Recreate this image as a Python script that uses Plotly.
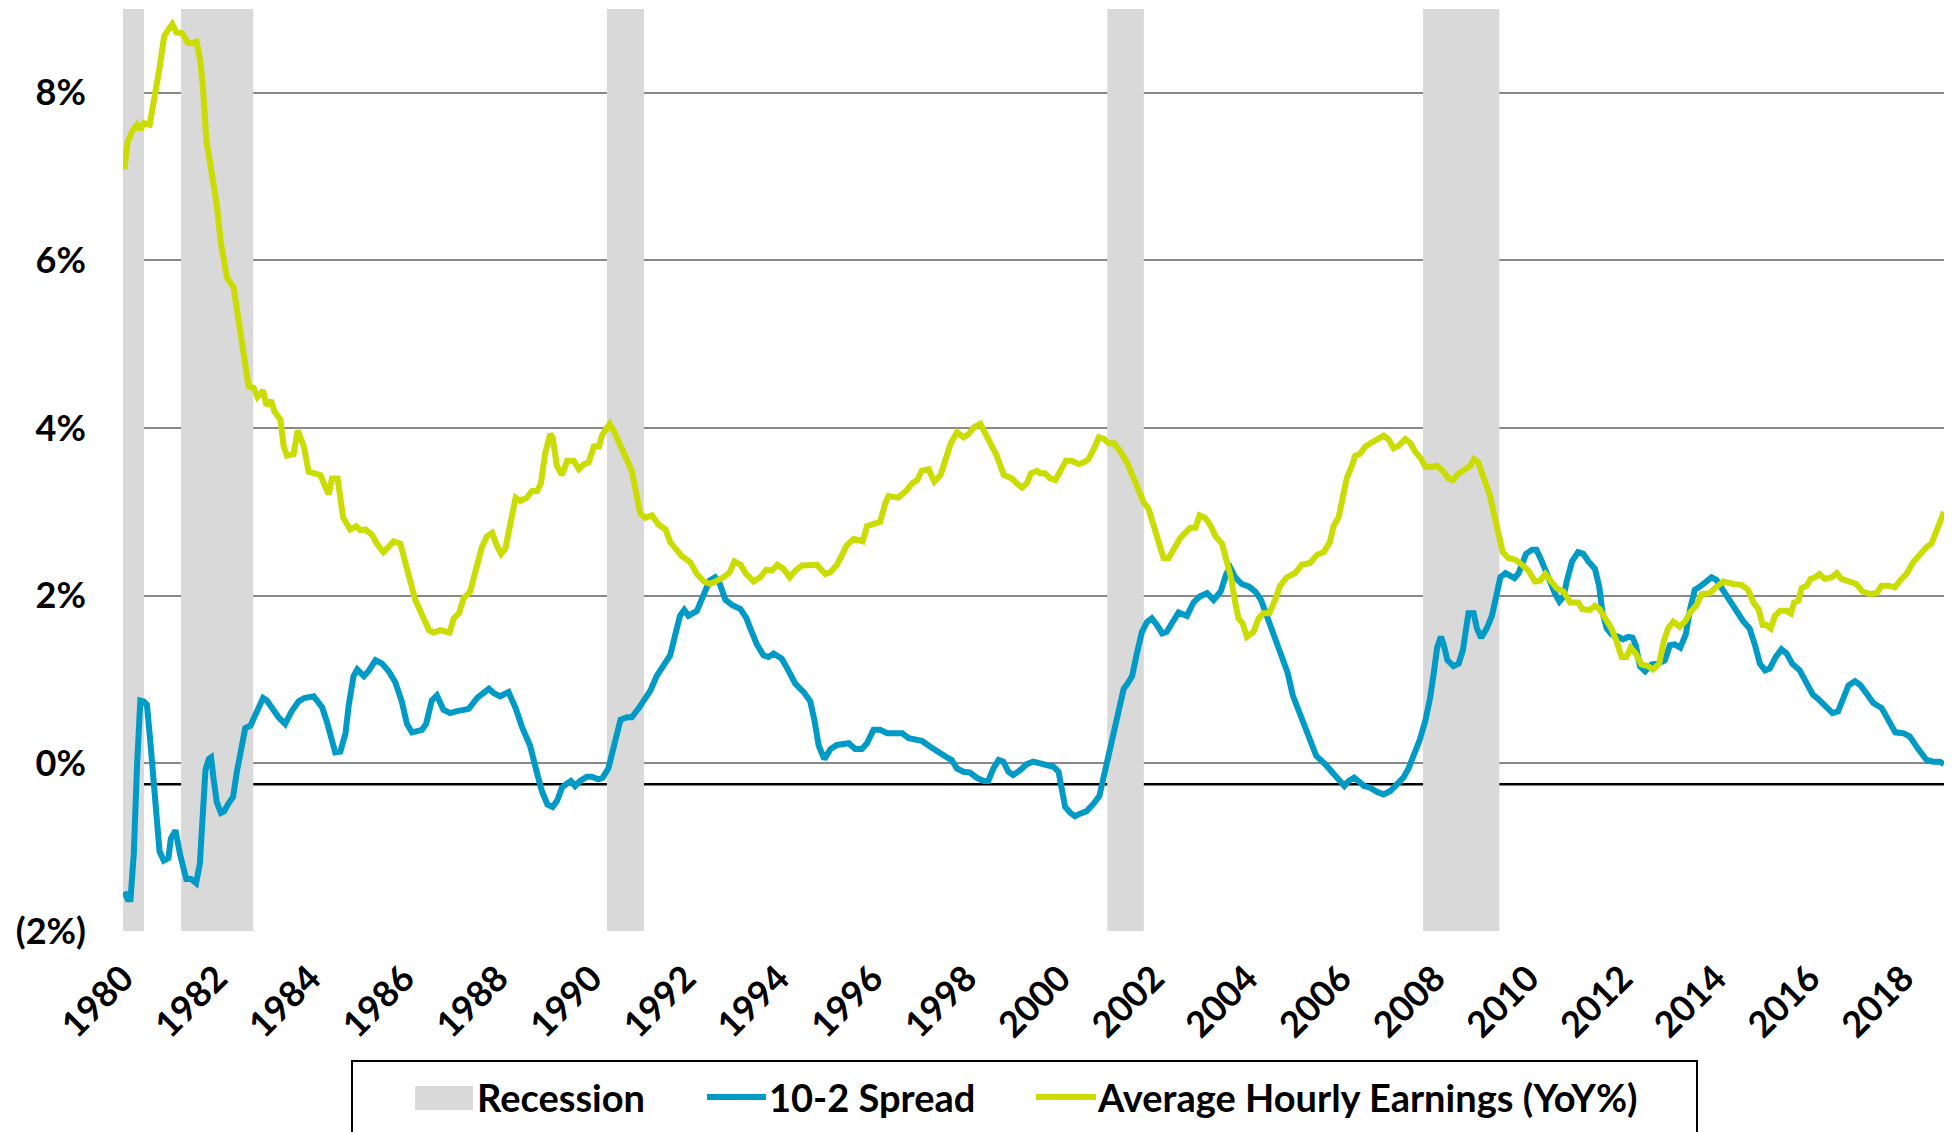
import plotly.graph_objects as go

# ---------------- data ----------------
# x values are years since January 1980
spread_t = [0.03, 0.10, 0.16, 0.23, 0.30, 0.37, 0.44, 0.51, 0.58, 0.69, 0.78, 0.87, 0.97, 1.02, 1.12, 1.22,
            1.35, 1.45, 1.56, 1.64, 1.69, 1.76, 1.83, 1.88, 1.93, 2.00, 2.09, 2.16, 2.25, 2.35, 2.43, 2.54,
            2.61, 2.72, 2.85, 2.99, 3.07, 3.18, 3.32, 3.46, 3.60, 3.75, 3.87, 4.07, 4.25, 4.35, 4.46, 4.53,
            4.64, 4.75, 4.82, 4.92, 5.00, 5.14, 5.24, 5.39, 5.53, 5.67, 5.81, 5.95, 6.06, 6.17, 6.38, 6.47,
            6.59, 6.70, 6.84, 6.98, 7.11, 7.38, 7.56, 7.70, 7.81, 7.91, 8.05, 8.23, 8.38, 8.52, 8.69, 8.83,
            8.94, 9.06, 9.17, 9.27, 9.37, 9.48, 9.56, 9.65, 9.76, 9.90, 10.00, 10.15, 10.24, 10.36, 10.47,
            10.54, 10.62, 10.76, 10.86, 11.01, 11.15, 11.26, 11.39, 11.54, 11.68, 11.79, 11.89, 11.98,
            12.07, 12.25, 12.39, 12.52, 12.64, 12.74, 12.86, 13.00, 13.18, 13.30, 13.39, 13.53, 13.67,
            13.78, 13.89, 14.06, 14.21, 14.35, 14.53, 14.67, 14.76, 14.85, 14.97, 15.10, 15.24, 15.49,
            15.63, 15.77, 15.88, 16.02, 16.16, 16.31, 16.48, 16.63, 16.77, 16.91, 17.05, 17.20, 17.37,
            17.59, 17.69, 17.80, 17.94, 18.08, 18.22, 18.37, 18.47, 18.58, 18.69, 18.79, 18.90, 19.00,
            19.15, 19.29, 19.43, 19.58, 19.72, 19.86, 19.97, 20.04, 20.11, 20.22, 20.32, 20.43, 20.57,
            20.72, 20.84, 20.93, 21.04, 21.14, 21.25, 21.36, 21.44, 21.54, 21.64, 21.75, 21.86, 21.96,
            22.07, 22.18, 22.28, 22.43, 22.53, 22.71, 22.85, 22.98, 23.14, 23.28, 23.43, 23.55, 23.64,
            23.74, 23.88, 24.03, 24.17, 24.29, 24.42, 24.56, 24.70, 24.86, 24.97, 25.07, 25.23, 25.34,
            25.47, 25.66, 25.80, 25.94, 26.07, 26.16, 26.28, 26.37, 26.49, 26.62, 26.76, 26.91, 27.05,
            27.19, 27.33, 27.44, 27.55, 27.68, 27.80, 27.90, 27.99, 28.05, 28.13, 28.19, 28.27, 28.40,
            28.51, 28.60, 28.67, 28.72, 28.83, 28.90, 28.99, 29.11, 29.22, 29.31, 29.40, 29.51, 29.61,
            29.70, 29.79, 29.86, 29.95, 30.08, 30.17, 30.27, 30.36, 30.48, 30.57, 30.66, 30.75, 30.82,
            30.93, 31.06, 31.17, 31.28, 31.42, 31.51, 31.58, 31.67, 31.77, 31.92, 32.02, 32.13, 32.22,
            32.29, 32.38, 32.49, 32.63, 32.77, 32.91, 33.02, 33.12, 33.24, 33.36, 33.45, 33.55, 33.66,
            33.76, 33.91, 34.01, 34.16, 34.30, 34.44, 34.58, 34.72, 34.83, 34.94, 35.05, 35.15, 35.28,
            35.40, 35.51, 35.63, 35.79, 35.94, 36.07, 36.22, 36.36, 36.49, 36.61, 36.72, 36.83, 36.97,
            37.09, 37.22, 37.36, 37.54, 37.68, 37.83, 38.00, 38.14, 38.32, 38.50, 38.64, 38.78, 38.87]
spread_v = [-1.53, -1.62, -1.62, -1.08, -0.02, 0.75, 0.74, 0.70, 0.28, -0.48, -1.05, -1.16, -1.13, -0.90,
            -0.80, -1.09, -1.38, -1.38, -1.43, -1.20, -0.78, -0.08, 0.05, 0.07, -0.17, -0.46, -0.59, -0.57,
            -0.48, -0.40, -0.10, 0.25, 0.42, 0.45, 0.62, 0.78, 0.75, 0.66, 0.55, 0.47, 0.62, 0.74, 0.78,
            0.80, 0.67, 0.50, 0.24, 0.13, 0.14, 0.36, 0.70, 1.04, 1.12, 1.04, 1.10, 1.23, 1.19, 1.10, 0.97,
            0.74, 0.47, 0.37, 0.40, 0.47, 0.75, 0.81, 0.64, 0.60, 0.62, 0.65, 0.78, 0.85, 0.89, 0.84, 0.80,
            0.85, 0.66, 0.43, 0.21, -0.10, -0.33, -0.49, -0.52, -0.44, -0.29, -0.24, -0.21, -0.27, -0.21,
            -0.16, -0.16, -0.19, -0.17, -0.06, 0.21, 0.40, 0.52, 0.55, 0.55, 0.66, 0.78, 0.87, 1.04, 1.16,
            1.29, 1.54, 1.76, 1.83, 1.76, 1.82, 2.03, 2.18, 2.22, 2.14, 1.95, 1.89, 1.84, 1.74, 1.61, 1.42,
            1.29, 1.27, 1.31, 1.25, 1.10, 0.95, 0.85, 0.74, 0.51, 0.21, 0.05, 0.17, 0.22, 0.24, 0.17, 0.17,
            0.24, 0.40, 0.40, 0.36, 0.36, 0.36, 0.30, 0.28, 0.27, 0.21, 0.14, 0.07, 0.04, -0.06, -0.10,
            -0.11, -0.17, -0.21, -0.21, -0.06, 0.04, 0.02, -0.10, -0.14, -0.08, -0.01, 0.02, 0.00, -0.01,
            -0.04, -0.10, -0.29, -0.52, -0.59, -0.63, -0.60, -0.57, -0.48, -0.39, -0.17, 0.10, 0.36, 0.62,
            0.89, 0.95, 1.04, 1.31, 1.57, 1.69, 1.73, 1.65, 1.55, 1.57, 1.73, 1.80, 1.76, 1.92, 1.99, 2.03,
            1.95, 2.05, 2.26, 2.33, 2.22, 2.14, 2.11, 2.05, 1.95, 1.76, 1.54, 1.35, 1.08, 0.81, 0.66, 0.43,
            0.24, 0.09, -0.01, -0.10, -0.19, -0.27, -0.21, -0.17, -0.21, -0.27, -0.29, -0.34, -0.37, -0.33,
            -0.25, -0.17, -0.06, 0.09, 0.28, 0.51, 0.78, 1.12, 1.38, 1.51, 1.42, 1.23, 1.16, 1.19, 1.35,
            1.61, 1.79, 1.79, 1.61, 1.50, 1.61, 1.76, 1.99, 2.22, 2.27, 2.24, 2.21, 2.27, 2.37, 2.50, 2.55,
            2.55, 2.43, 2.30, 2.12, 2.02, 1.93, 1.99, 2.18, 2.41, 2.52, 2.50, 2.41, 2.32, 2.11, 1.80, 1.61,
            1.54, 1.51, 1.48, 1.51, 1.50, 1.41, 1.16, 1.10, 1.18, 1.19, 1.23, 1.41, 1.42, 1.38, 1.54, 1.84,
            2.07, 2.11, 2.15, 2.22, 2.19, 2.07, 1.95, 1.82, 1.70, 1.61, 1.42, 1.19, 1.11, 1.13, 1.27, 1.36,
            1.31, 1.19, 1.11, 0.97, 0.82, 0.75, 0.68, 0.60, 0.62, 0.78, 0.93, 0.98, 0.93, 0.83, 0.72, 0.66,
            0.52, 0.37, 0.36, 0.32, 0.17, 0.04, 0.02, 0.02, -0.01]

ahe_t = [0.03, 0.10, 0.19, 0.30, 0.38, 0.44, 0.57, 0.65, 0.78, 0.88, 0.97, 1.05, 1.14, 1.26, 1.38, 1.47,
         1.57, 1.65, 1.71, 1.78, 1.86, 2.00, 2.09, 2.22, 2.36, 2.50, 2.68, 2.79, 2.87, 2.99, 3.06, 3.16,
         3.23, 3.36, 3.43, 3.50, 3.64, 3.73, 3.86, 3.96, 4.21, 4.39, 4.46, 4.58, 4.70, 4.85, 4.98, 5.07,
         5.17, 5.31, 5.42, 5.56, 5.67, 5.78, 5.92, 6.06, 6.24, 6.36, 6.53, 6.63, 6.77, 6.97, 7.06, 7.17,
         7.27, 7.41, 7.52, 7.66, 7.77, 7.88, 7.98, 8.07, 8.16, 8.27, 8.38, 8.48, 8.62, 8.73, 8.84, 8.92,
         9.01, 9.12, 9.17, 9.26, 9.37, 9.48, 9.62, 9.73, 9.84, 9.94, 10.05, 10.16, 10.22, 10.29, 10.39,
         10.49, 10.61, 10.74, 10.86, 10.93, 11.04, 11.15, 11.29, 11.43, 11.58, 11.68, 11.83, 11.93,
         12.11, 12.25, 12.40, 12.54, 12.68, 12.82, 12.95, 13.05, 13.18, 13.30, 13.46, 13.60, 13.73,
         13.85, 13.97, 14.10, 14.23, 14.35, 14.49, 14.67, 14.81, 14.99, 15.10, 15.24, 15.31, 15.45,
         15.60, 15.79, 15.88, 15.99, 16.16, 16.27, 16.34, 16.55, 16.73, 16.84, 16.95, 17.05, 17.20,
         17.25, 17.32, 17.45, 17.57, 17.67, 17.80, 17.94, 18.05, 18.16, 18.30, 18.41, 18.51, 18.65,
         18.80, 18.97, 19.08, 19.19, 19.29, 19.38, 19.51, 19.58, 19.68, 19.79, 19.90, 20.01, 20.13,
         20.25, 20.40, 20.51, 20.61, 20.73, 20.83, 20.94, 21.04, 21.15, 21.29, 21.43, 21.54, 21.64,
         21.79, 21.89, 22.00, 22.10, 22.21, 22.32, 22.42, 22.57, 22.67, 22.78, 22.89, 22.98, 23.10,
         23.21, 23.32, 23.46, 23.56, 23.65, 23.74, 23.81, 23.90, 23.99, 24.13, 24.24, 24.34, 24.47,
         24.59, 24.70, 24.84, 25.02, 25.16, 25.34, 25.49, 25.63, 25.76, 25.84, 25.95, 26.05, 26.12,
         26.23, 26.30, 26.40, 26.52, 26.66, 26.80, 26.91, 27.02, 27.12, 27.23, 27.37, 27.48, 27.58,
         27.70, 27.80, 27.94, 28.05, 28.19, 28.29, 28.39, 28.51, 28.65, 28.76, 28.84, 28.93, 29.04,
         29.17, 29.27, 29.36, 29.45, 29.57, 29.72, 29.86, 30.00, 30.14, 30.25, 30.36, 30.46, 30.60,
         30.75, 30.89, 31.06, 31.15, 31.31, 31.42, 31.52, 31.63, 31.77, 31.88, 31.99, 32.09, 32.18,
         32.29, 32.41, 32.55, 32.66, 32.79, 32.89, 32.98, 33.09, 33.23, 33.34, 33.45, 33.59, 33.70,
         33.87, 33.98, 34.16, 34.37, 34.55, 34.69, 34.80, 34.91, 35.00, 35.08, 35.17, 35.26, 35.37,
         35.51, 35.60, 35.67, 35.76, 35.83, 35.94, 36.02, 36.12, 36.21, 36.33, 36.47, 36.58, 36.68,
         36.86, 37.00, 37.13, 37.29, 37.43, 37.54, 37.68, 37.82, 37.93, 38.07, 38.21, 38.35, 38.50,
         38.60, 38.71, 38.78, 38.87]
ahe_v = [7.09, 7.41, 7.54, 7.62, 7.56, 7.64, 7.62, 7.85, 8.30, 8.68, 8.76, 8.82, 8.72, 8.71, 8.60, 8.59,
         8.61, 8.38, 8.04, 7.43, 7.16, 6.67, 6.21, 5.79, 5.68, 5.15, 4.50, 4.48, 4.37, 4.45, 4.27, 4.33,
         4.20, 4.10, 3.78, 3.67, 3.69, 3.97, 3.78, 3.48, 3.44, 3.21, 3.40, 3.40, 2.93, 2.79, 2.83, 2.78,
         2.79, 2.73, 2.62, 2.52, 2.58, 2.65, 2.62, 2.33, 1.95, 1.80, 1.59, 1.56, 1.59, 1.56, 1.73, 1.79,
         1.97, 2.05, 2.26, 2.58, 2.71, 2.75, 2.60, 2.50, 2.56, 2.90, 3.17, 3.13, 3.17, 3.25, 3.25, 3.34,
         3.70, 3.93, 3.89, 3.55, 3.44, 3.61, 3.61, 3.51, 3.57, 3.59, 3.78, 3.78, 3.91, 3.97, 4.05, 3.95,
         3.78, 3.64, 3.49, 3.25, 2.98, 2.93, 2.96, 2.85, 2.79, 2.64, 2.55, 2.47, 2.40, 2.26, 2.17, 2.14,
         2.18, 2.22, 2.28, 2.41, 2.37, 2.26, 2.17, 2.22, 2.31, 2.30, 2.37, 2.32, 2.22, 2.30, 2.36, 2.37,
         2.37, 2.26, 2.28, 2.37, 2.45, 2.60, 2.68, 2.65, 2.83, 2.85, 2.88, 3.10, 3.19, 3.17, 3.26, 3.34,
         3.38, 3.49, 3.51, 3.44, 3.36, 3.44, 3.63, 3.82, 3.95, 3.89, 3.93, 4.01, 4.05, 3.93, 3.84, 3.67,
         3.44, 3.40, 3.34, 3.29, 3.34, 3.46, 3.49, 3.46, 3.46, 3.40, 3.38, 3.49, 3.61, 3.61, 3.57, 3.59,
         3.63, 3.76, 3.89, 3.87, 3.82, 3.82, 3.72, 3.59, 3.44, 3.29, 3.11, 3.04, 2.83, 2.60, 2.45, 2.45,
         2.56, 2.69, 2.75, 2.81, 2.81, 2.96, 2.93, 2.84, 2.71, 2.62, 2.41, 2.22, 1.92, 1.73, 1.67, 1.51,
         1.57, 1.73, 1.79, 1.79, 1.95, 2.12, 2.22, 2.27, 2.37, 2.39, 2.49, 2.52, 2.64, 2.83, 2.94, 3.19,
         3.40, 3.55, 3.67, 3.69, 3.78, 3.83, 3.88, 3.91, 3.86, 3.76, 3.79, 3.87, 3.82, 3.72, 3.64, 3.54,
         3.54, 3.55, 3.48, 3.40, 3.38, 3.46, 3.51, 3.55, 3.63, 3.59, 3.41, 3.21, 2.96, 2.71, 2.52, 2.45,
         2.43, 2.37, 2.30, 2.17, 2.18, 2.26, 2.18, 2.09, 2.05, 1.92, 1.92, 1.84, 1.83, 1.88, 1.84, 1.73,
         1.61, 1.46, 1.27, 1.27, 1.38, 1.31, 1.18, 1.16, 1.12, 1.19, 1.46, 1.61, 1.69, 1.63, 1.69, 1.80,
         1.89, 2.02, 2.03, 2.09, 2.17, 2.14, 2.13, 2.07, 1.92, 1.84, 1.65, 1.65, 1.61, 1.76, 1.82, 1.82,
         1.79, 1.92, 1.94, 2.09, 2.12, 2.20, 2.22, 2.26, 2.20, 2.22, 2.27, 2.20, 2.17, 2.14, 2.05, 2.02,
         2.03, 2.12, 2.12, 2.10, 2.18, 2.26, 2.40, 2.49, 2.58, 2.62, 2.79, 2.88, 3.00]

base_year = 1980
recession_start = [1980.00, 1981.24, 1990.33, 2001.01, 2007.75]
recession_end = [1980.45, 1982.78, 1991.12, 2001.79, 2009.38]
x_tick_years = [1980, 1982, 1984, 1986, 1988, 1990, 1992, 1994, 1996, 1998,
                2000, 2002, 2004, 2006, 2008, 2010, 2012, 2014, 2016, 2018]
y_tick_vals = [-2, 0, 2, 4, 6, 8]
y_tick_text = ["(2%)", "0%", "2%", "4%", "6%", "8%"]
spread_zero_line = -0.25
x_end = 2018.87

# ---------------- styling ----------------
W, H = 1953, 1132
ML, MR, MT, MB = 123, 9, 9, 201
PW, PH = W - ML - MR, H - MT - MB
BLUE = "#009AC7"
LIME = "#CADC00"
BAND = "#D9D9D9"
GRID = "#898989"
FONT = "Lato"
FS = 36
LFS = 38


def px_x(px):
    return (px - ML) / PW


def px_y(py):
    return (H - MB - py) / PH


fig = go.Figure()

fig.add_trace(go.Scatter(
    x=[base_year + t for t in spread_t], y=spread_v, mode="lines", name="10-2 Spread",
    line=dict(color=BLUE, width=6), showlegend=False))
fig.add_trace(go.Scatter(
    x=[base_year + t for t in ahe_t], y=ahe_v, mode="lines", name="Average Hourly Earnings (YoY%)",
    line=dict(color=LIME, width=6), showlegend=False))

shapes = []
for s, e in zip(recession_start, recession_end):
    shapes.append(dict(type="rect", xref="x", yref="y", x0=s, x1=e, y0=-2, y1=9,
                       fillcolor=BAND, line=dict(width=0), layer="between"))
shapes.append(dict(type="line", xref="paper", yref="y", x0=0, x1=1,
                   y0=spread_zero_line, y1=spread_zero_line,
                   line=dict(color="black", width=2.5), layer="between"))

# legend (drawn manually to match the original box)
shapes.append(dict(type="rect", xref="paper", yref="paper", x0=px_x(352), x1=px_x(1697),
                   y0=px_y(1061), y1=px_y(1160), line=dict(color="black", width=2),
                   fillcolor="rgba(0,0,0,0)", layer="above"))
shapes.append(dict(type="rect", xref="paper", yref="paper", x0=px_x(415), x1=px_x(473),
                   y0=px_y(1086), y1=px_y(1110), line=dict(width=0), fillcolor=BAND))
shapes.append(dict(type="line", xref="paper", yref="paper", x0=px_x(707), x1=px_x(766),
                   y0=px_y(1097), y1=px_y(1097), line=dict(color=BLUE, width=6)))
shapes.append(dict(type="line", xref="paper", yref="paper", x0=px_x(1036), x1=px_x(1096),
                   y0=px_y(1097), y1=px_y(1097), line=dict(color=LIME, width=6)))

annotations = []
for label, left in [("Recession", 475), ("10-2 Spread", 767), ("Average Hourly Earnings (YoY%)", 1095)]:
    annotations.append(dict(text=label, xref="paper", yref="paper", x=px_x(left), y=px_y(1097),
                            xanchor="left", yanchor="middle", showarrow=False,
                            font=dict(family=FONT, size=LFS, color="black", weight="bold")))

fig.update_layout(
    width=W, height=H,
    margin=dict(l=ML, r=MR, t=MT, b=MB, autoexpand=False),
    paper_bgcolor="white", plot_bgcolor="white",
    shapes=shapes, annotations=annotations,
    showlegend=False,
    xaxis=dict(range=[base_year, x_end], tickvals=x_tick_years,
               ticktext=[str(y) for y in x_tick_years], tickangle=-45,
               showgrid=False, zeroline=False, showline=False, ticks="",
               ticklabelstandoff=18, automargin=False,
               tickfont=dict(family=FONT, size=FS, color="black", weight="bold")),
    yaxis=dict(range=[-2, 9], tickvals=y_tick_vals, ticktext=y_tick_text,
               showgrid=True, gridcolor=GRID, gridwidth=2, zeroline=False, showline=False,
               ticks="", ticklabelstandoff=36, automargin=False,
               tickfont=dict(family=FONT, size=FS, color="black", weight="bold")),
)

fig.write_html("out.html", config={"displayModeBar": False},
               post_script="document.body.style.margin='0px';document.body.style.overflow='hidden';")
